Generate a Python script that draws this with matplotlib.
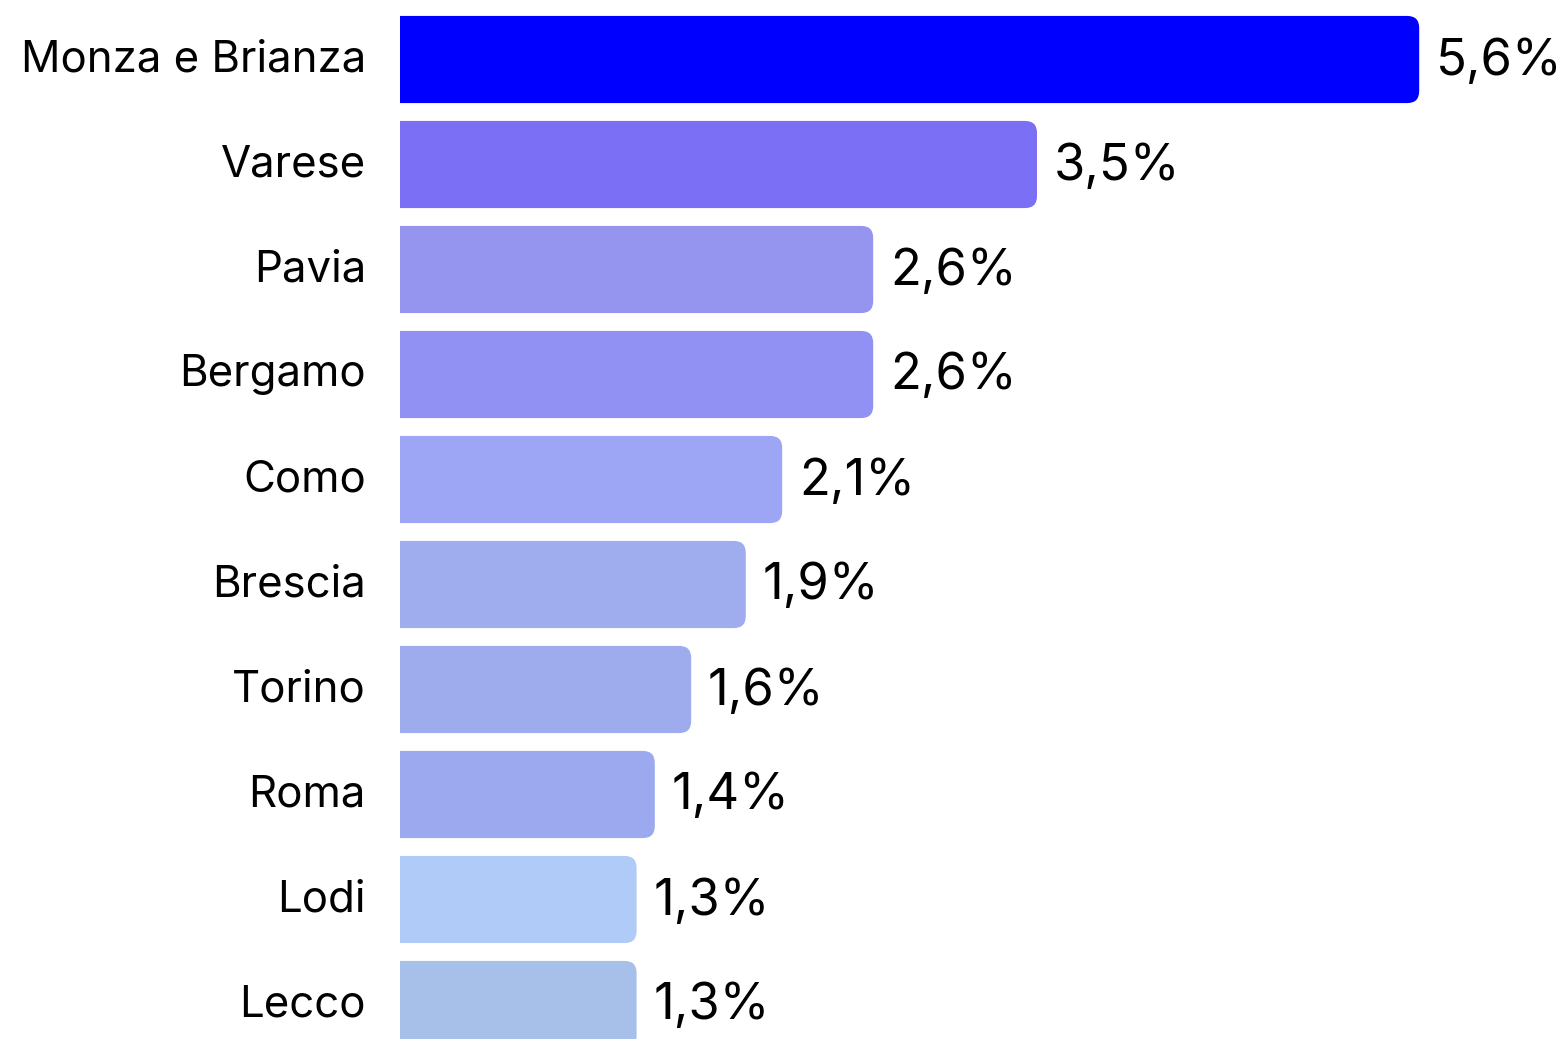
import matplotlib
matplotlib.use("Agg")
import matplotlib.pyplot as plt
from matplotlib.patches import FancyBboxPatch

# Dati
province = ["Monza e Brianza", "Varese", "Pavia", "Bergamo", "Como",
            "Brescia", "Torino", "Roma", "Lodi", "Lecco"]
valori = [5.6, 3.5, 2.6, 2.6, 2.1, 1.9, 1.6, 1.4, 1.3, 1.3]
etichette = ["5,6%", "3,5%", "2,6%", "2,6%", "2,1%",
             "1,9%", "1,6%", "1,4%", "1,3%", "1,3%"]
colori = ["#0000ff", "#7b6ff6", "#9595ef", "#9191f4", "#9da6f4",
          "#9fadee", "#9eacee", "#9ca9ee", "#b0cbf7", "#a6c0e9"]

plt.rcParams["font.family"] = ["Inter", "DejaVu Sans"]

W, H = 1565, 1039
fig = plt.figure(figsize=(W / 100, H / 100), dpi=100)
ax_left = 400
ax = fig.add_axes([ax_left / W, 0, (W - ax_left) / W, 1])

px_x = 182.0   # pixel per unità x
px_y = 105.0   # pixel per barra
ax.set_xlim(0, (W - ax_left) / px_x)
ax.set_ylim((H - 59.5) / px_y, -59.5 / px_y)

pos = list(range(len(province)))
bars = ax.barh(pos, valori, height=0.83)

# Sostituisci le barre con rettangoli arrotondati a destra
raggio = 12 / px_x
aspetto = px_x / px_y
for bar, col in zip(bars, colori):
    x0, y0 = bar.get_x(), bar.get_y()
    w, h = bar.get_width(), bar.get_height()
    bar.remove()
    p = FancyBboxPatch((x0 - 0.3, y0), w + 0.3, h,
                       boxstyle=f"round,pad=0,rounding_size={raggio}",
                       mutation_aspect=aspetto, facecolor=col,
                       edgecolor="none", clip_on=True)
    ax.add_patch(p)

# Etichette valori e nomi (offset in punti, 1pt = 1.389px a 100 dpi)
for i, (v, t) in enumerate(zip(valori, etichette)):
    ax.annotate(t, (v, i), xytext=(12, -10.8), textcoords="offset points",
                ha="left", va="baseline", fontsize=36.5, color="black",
                annotation_clip=False)

for i, nome in enumerate(province):
    ax.annotate(nome, (0, i), xytext=(-24.5, -8.6), textcoords="offset points",
                ha="right", va="baseline", fontsize=31.5, color="black",
                annotation_clip=False)

ax.set_yticks([])
ax.set_xticks([])
for s in ax.spines.values():
    s.set_visible(False)

fig.savefig("out.png", dpi=100)
